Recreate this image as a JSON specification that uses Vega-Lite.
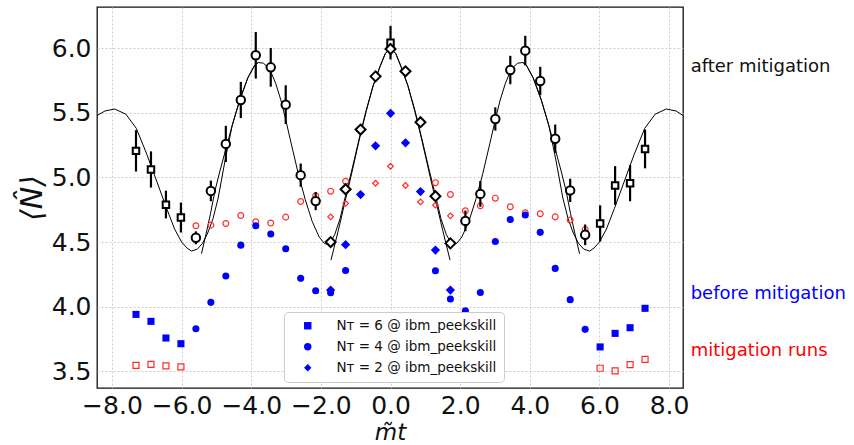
{
  "$schema": "https://vega.github.io/schema/vega-lite/v6.json",
  "autosize": {"type": "none"},
  "padding": {"left": 97, "top": 7, "right": 171, "bottom": 57},
  "width": 586,
  "height": 381,
  "background": "white",
  "config": {
    "view": {"stroke": "#111111", "strokeWidth": 1.3},
    "font": "DejaVu Sans",
    "axis": {
      "domain": false,
      "ticks": false,
      "grid": true,
      "gridColor": "#c8c8c8",
      "gridDash": [2, 2],
      "gridWidth": 0.9,
      "labelFont": "DejaVu Sans",
      "labelFontSize": 25,
      "labelColor": "#111111",
      "titleFont": "DejaVu Sans",
      "titleFontWeight": "normal",
      "titleColor": "#111111"
    }
  },
  "datasets": {
    "curves": [
      {"c": "A", "x": -8.43, "y": 5.48}, {"c": "A", "x": -8.2, "y": 5.515}, {"c": "A", "x": -7.92, "y": 5.53}, {"c": "A", "x": -7.6, "y": 5.49},
      {"c": "A", "x": -7.3, "y": 5.38}, {"c": "A", "x": -7.0, "y": 5.18}, {"c": "A", "x": -6.7, "y": 4.96}, {"c": "A", "x": -6.43, "y": 4.76},
      {"c": "A", "x": -6.2, "y": 4.6}, {"c": "A", "x": -6.0, "y": 4.5}, {"c": "A", "x": -5.85, "y": 4.455}, {"c": "A", "x": -5.72, "y": 4.43},
      {"c": "A", "x": -5.55, "y": 4.445}, {"c": "A", "x": -5.4, "y": 4.49}, {"c": "A", "x": -5.25, "y": 4.57}, {"c": "A", "x": -5.1, "y": 4.68},
      {"c": "A", "x": -4.95, "y": 4.84}, {"c": "A", "x": -4.76, "y": 5.12}, {"c": "A", "x": -4.55, "y": 5.4}, {"c": "A", "x": -4.33, "y": 5.6},
      {"c": "A", "x": -4.1, "y": 5.77}, {"c": "A", "x": -3.9, "y": 5.87}, {"c": "A", "x": -3.8, "y": 5.89}, {"c": "A", "x": -3.65, "y": 5.885},
      {"c": "A", "x": -3.47, "y": 5.84}, {"c": "A", "x": -3.3, "y": 5.73}, {"c": "A", "x": -3.15, "y": 5.6}, {"c": "A", "x": -3.03, "y": 5.47},
      {"c": "A", "x": -2.85, "y": 5.26}, {"c": "A", "x": -2.65, "y": 5.03}, {"c": "A", "x": -2.45, "y": 4.83}, {"c": "A", "x": -2.25, "y": 4.66},
      {"c": "A", "x": -2.05, "y": 4.54}, {"c": "A", "x": -1.9, "y": 4.49}, {"c": "A", "x": -1.8, "y": 4.48}, {"c": "A", "x": -1.7, "y": 4.51},
      {"c": "A", "x": -1.6, "y": 4.56}, {"c": "A", "x": -1.45, "y": 4.68}, {"c": "A", "x": -1.3, "y": 4.85}, {"c": "A", "x": -1.1, "y": 5.07},
      {"c": "A", "x": -0.9, "y": 5.3}, {"c": "A", "x": -0.7, "y": 5.52}, {"c": "A", "x": -0.5, "y": 5.71}, {"c": "A", "x": -0.3, "y": 5.86},
      {"c": "A", "x": -0.15, "y": 5.96}, {"c": "A", "x": 0.0, "y": 6.0},
      {"c": "A", "x": 0.15, "y": 5.96}, {"c": "A", "x": 0.3, "y": 5.86}, {"c": "A", "x": 0.5, "y": 5.71}, {"c": "A", "x": 0.7, "y": 5.52},
      {"c": "A", "x": 0.9, "y": 5.3}, {"c": "A", "x": 1.1, "y": 5.07}, {"c": "A", "x": 1.3, "y": 4.85}, {"c": "A", "x": 1.45, "y": 4.68},
      {"c": "A", "x": 1.6, "y": 4.56}, {"c": "A", "x": 1.7, "y": 4.51}, {"c": "A", "x": 1.8, "y": 4.48}, {"c": "A", "x": 1.9, "y": 4.49},
      {"c": "A", "x": 2.05, "y": 4.54}, {"c": "A", "x": 2.25, "y": 4.66}, {"c": "A", "x": 2.45, "y": 4.83}, {"c": "A", "x": 2.65, "y": 5.03},
      {"c": "A", "x": 2.85, "y": 5.26}, {"c": "A", "x": 3.03, "y": 5.47}, {"c": "A", "x": 3.15, "y": 5.6}, {"c": "A", "x": 3.3, "y": 5.73},
      {"c": "A", "x": 3.47, "y": 5.84}, {"c": "A", "x": 3.65, "y": 5.885}, {"c": "A", "x": 3.8, "y": 5.89}, {"c": "A", "x": 3.9, "y": 5.87},
      {"c": "A", "x": 4.1, "y": 5.77}, {"c": "A", "x": 4.33, "y": 5.6}, {"c": "A", "x": 4.55, "y": 5.4}, {"c": "A", "x": 4.76, "y": 5.12},
      {"c": "A", "x": 4.95, "y": 4.84}, {"c": "A", "x": 5.1, "y": 4.68}, {"c": "A", "x": 5.25, "y": 4.57}, {"c": "A", "x": 5.4, "y": 4.49},
      {"c": "A", "x": 5.55, "y": 4.445}, {"c": "A", "x": 5.72, "y": 4.43}, {"c": "A", "x": 5.85, "y": 4.455}, {"c": "A", "x": 6.0, "y": 4.5},
      {"c": "A", "x": 6.2, "y": 4.6}, {"c": "A", "x": 6.43, "y": 4.76}, {"c": "A", "x": 6.7, "y": 4.96}, {"c": "A", "x": 7.0, "y": 5.18},
      {"c": "A", "x": 7.3, "y": 5.38}, {"c": "A", "x": 7.6, "y": 5.49}, {"c": "A", "x": 7.92, "y": 5.53}, {"c": "A", "x": 8.2, "y": 5.515},
      {"c": "A", "x": 8.4, "y": 5.48},
      {"c": "BL", "x": -5.43, "y": 4.41}, {"c": "BL", "x": -5.3, "y": 4.56}, {"c": "BL", "x": -5.17, "y": 4.72}, {"c": "BL", "x": -5.04, "y": 4.9},
      {"c": "BL", "x": -4.9, "y": 5.05}, {"c": "BL", "x": -4.76, "y": 5.19}, {"c": "BL", "x": -4.55, "y": 5.4}, {"c": "BL", "x": -4.33, "y": 5.6},
      {"c": "BL", "x": -4.1, "y": 5.77}, {"c": "BL", "x": -3.9, "y": 5.87}, {"c": "BL", "x": -3.8, "y": 5.89},
      {"c": "BR", "x": 3.8, "y": 5.89}, {"c": "BR", "x": 3.9, "y": 5.87}, {"c": "BR", "x": 4.1, "y": 5.77}, {"c": "BR", "x": 4.33, "y": 5.6},
      {"c": "BR", "x": 4.55, "y": 5.4}, {"c": "BR", "x": 4.76, "y": 5.19}, {"c": "BR", "x": 4.9, "y": 5.05}, {"c": "BR", "x": 5.04, "y": 4.9},
      {"c": "BR", "x": 5.17, "y": 4.72}, {"c": "BR", "x": 5.3, "y": 4.56}, {"c": "BR", "x": 5.43, "y": 4.41},
      {"c": "C", "x": -1.71, "y": 4.36}, {"c": "C", "x": -1.5, "y": 4.59}, {"c": "C", "x": -1.3, "y": 4.82}, {"c": "C", "x": -1.1, "y": 5.05},
      {"c": "C", "x": -0.9, "y": 5.29}, {"c": "C", "x": -0.7, "y": 5.51}, {"c": "C", "x": -0.5, "y": 5.71}, {"c": "C", "x": -0.3, "y": 5.86},
      {"c": "C", "x": -0.15, "y": 5.96}, {"c": "C", "x": 0.0, "y": 6.0}, {"c": "C", "x": 0.15, "y": 5.96}, {"c": "C", "x": 0.3, "y": 5.86},
      {"c": "C", "x": 0.5, "y": 5.71}, {"c": "C", "x": 0.7, "y": 5.51}, {"c": "C", "x": 0.9, "y": 5.29}, {"c": "C", "x": 1.1, "y": 5.05},
      {"c": "C", "x": 1.3, "y": 4.82}, {"c": "C", "x": 1.5, "y": 4.59}, {"c": "C", "x": 1.71, "y": 4.36}
    ],
    "red": [
      {"nt": "6", "x": -7.31, "y": 3.545}, {"nt": "6", "x": -6.88, "y": 3.553}, {"nt": "6", "x": -6.45, "y": 3.541}, {"nt": "6", "x": -6.02, "y": 3.533},
      {"nt": "6", "x": 6.02, "y": 3.523}, {"nt": "6", "x": 6.45, "y": 3.502}, {"nt": "6", "x": 6.88, "y": 3.551}, {"nt": "6", "x": 7.31, "y": 3.592},
      {"nt": "4", "x": -5.59, "y": 4.626}, {"nt": "4", "x": -5.16, "y": 4.631}, {"nt": "4", "x": -4.73, "y": 4.644}, {"nt": "4", "x": -4.3, "y": 4.706},
      {"nt": "4", "x": -3.87, "y": 4.657}, {"nt": "4", "x": -3.44, "y": 4.647}, {"nt": "4", "x": -3.01, "y": 4.693}, {"nt": "4", "x": -2.58, "y": 4.814},
      {"nt": "4", "x": -2.15, "y": 4.858}, {"nt": "4", "x": -1.72, "y": 4.894}, {"nt": "4", "x": -1.29, "y": 4.971},
      {"nt": "4", "x": 1.29, "y": 4.96}, {"nt": "4", "x": 1.72, "y": 4.868}, {"nt": "4", "x": 2.15, "y": 4.742}, {"nt": "4", "x": 2.58, "y": 4.781},
      {"nt": "4", "x": 3.01, "y": 4.84}, {"nt": "4", "x": 3.44, "y": 4.773}, {"nt": "4", "x": 3.87, "y": 4.727}, {"nt": "4", "x": 4.3, "y": 4.719},
      {"nt": "4", "x": 4.73, "y": 4.695}, {"nt": "4", "x": 5.16, "y": 4.67}, {"nt": "4", "x": 5.59, "y": 4.598},
      {"nt": "2", "x": -1.72, "y": 4.695}, {"nt": "2", "x": -1.29, "y": 4.8}, {"nt": "2", "x": -0.86, "y": 4.868}, {"nt": "2", "x": -0.43, "y": 4.955},
      {"nt": "2", "x": 0.0, "y": 5.087}, {"nt": "2", "x": 0.43, "y": 4.938}, {"nt": "2", "x": 0.86, "y": 4.811}, {"nt": "2", "x": 1.29, "y": 4.786},
      {"nt": "2", "x": 1.72, "y": 4.703}
    ],
    "blue": [
      {"nt": "6", "x": -7.31, "y": 3.94}, {"nt": "6", "x": -6.88, "y": 3.886}, {"nt": "6", "x": -6.45, "y": 3.757}, {"nt": "6", "x": -6.02, "y": 3.713},
      {"nt": "6", "x": 6.02, "y": 3.688}, {"nt": "6", "x": 6.45, "y": 3.793}, {"nt": "6", "x": 6.88, "y": 3.837}, {"nt": "6", "x": 7.31, "y": 3.987},
      {"nt": "4", "x": -5.59, "y": 3.829}, {"nt": "4", "x": -5.16, "y": 4.033}, {"nt": "4", "x": -4.73, "y": 4.237}, {"nt": "4", "x": -4.3, "y": 4.476},
      {"nt": "4", "x": -3.87, "y": 4.626}, {"nt": "4", "x": -3.44, "y": 4.562}, {"nt": "4", "x": -3.01, "y": 4.448}, {"nt": "4", "x": -2.58, "y": 4.219},
      {"nt": "4", "x": -2.15, "y": 4.123}, {"nt": "4", "x": -1.72, "y": 4.107}, {"nt": "4", "x": -1.29, "y": 4.28},
      {"nt": "4", "x": 1.29, "y": 4.278}, {"nt": "4", "x": 1.72, "y": 4.059}, {"nt": "4", "x": 2.15, "y": 3.968}, {"nt": "4", "x": 2.58, "y": 4.11},
      {"nt": "4", "x": 3.01, "y": 4.505}, {"nt": "4", "x": 3.44, "y": 4.675}, {"nt": "4", "x": 3.87, "y": 4.709}, {"nt": "4", "x": 4.3, "y": 4.575},
      {"nt": "4", "x": 4.73, "y": 4.296}, {"nt": "4", "x": 5.16, "y": 4.054}, {"nt": "4", "x": 5.59, "y": 3.824},
      {"nt": "2", "x": -1.72, "y": 4.128}, {"nt": "2", "x": -1.29, "y": 4.48}, {"nt": "2", "x": -0.86, "y": 4.868}, {"nt": "2", "x": -0.43, "y": 5.245},
      {"nt": "2", "x": 0.0, "y": 5.497}, {"nt": "2", "x": 0.43, "y": 5.268}, {"nt": "2", "x": 0.86, "y": 4.891}, {"nt": "2", "x": 1.29, "y": 4.438},
      {"nt": "2", "x": 1.72, "y": 4.128}
    ],
    "black": [
      {"nt": "6", "x": -7.31, "y": 5.206, "lo": 5.046, "hi": 5.366}, {"nt": "6", "x": -6.88, "y": 5.062, "lo": 4.922, "hi": 5.202},
      {"nt": "6", "x": -6.45, "y": 4.788, "lo": 4.683, "hi": 4.898}, {"nt": "6", "x": -6.02, "y": 4.69, "lo": 4.574, "hi": 4.806},
      {"nt": "6", "x": 0.0, "y": 6.044, "lo": 5.914, "hi": 6.174},
      {"nt": "6", "x": 6.02, "y": 4.644, "lo": 4.504, "hi": 4.784}, {"nt": "6", "x": 6.45, "y": 4.938, "lo": 4.788, "hi": 5.088},
      {"nt": "6", "x": 6.88, "y": 4.956, "lo": 4.816, "hi": 5.096}, {"nt": "6", "x": 7.31, "y": 5.221, "lo": 5.071, "hi": 5.371},
      {"nt": "4", "x": -5.59, "y": 4.533, "lo": 4.483, "hi": 4.583}, {"nt": "4", "x": -5.16, "y": 4.896, "lo": 4.816, "hi": 4.976},
      {"nt": "4", "x": -4.73, "y": 5.26, "lo": 5.12, "hi": 5.4}, {"nt": "4", "x": -4.3, "y": 5.6, "lo": 5.46, "hi": 5.74},
      {"nt": "4", "x": -3.87, "y": 5.946, "lo": 5.766, "hi": 6.126}, {"nt": "4", "x": -3.44, "y": 5.853, "lo": 5.703, "hi": 6.003},
      {"nt": "4", "x": -3.01, "y": 5.564, "lo": 5.414, "hi": 5.714}, {"nt": "4", "x": -2.58, "y": 5.018, "lo": 4.928, "hi": 5.108},
      {"nt": "4", "x": -2.15, "y": 4.817, "lo": 4.747, "hi": 4.887},
      {"nt": "4", "x": 2.15, "y": 4.664, "lo": 4.584, "hi": 4.744}, {"nt": "4", "x": 2.58, "y": 4.873, "lo": 4.773, "hi": 4.973},
      {"nt": "4", "x": 3.01, "y": 5.453, "lo": 5.363, "hi": 5.543}, {"nt": "4", "x": 3.44, "y": 5.832, "lo": 5.722, "hi": 5.942},
      {"nt": "4", "x": 3.87, "y": 5.982, "lo": 5.867, "hi": 6.097}, {"nt": "4", "x": 4.3, "y": 5.747, "lo": 5.637, "hi": 5.857},
      {"nt": "4", "x": 4.73, "y": 5.3, "lo": 5.19, "hi": 5.41}, {"nt": "4", "x": 5.16, "y": 4.9, "lo": 4.81, "hi": 4.99},
      {"nt": "4", "x": 5.59, "y": 4.556, "lo": 4.476, "hi": 4.636},
      {"nt": "2", "x": -1.72, "y": 4.5, "lo": 4.5, "hi": 4.5}, {"nt": "2", "x": -1.29, "y": 4.909, "lo": 4.909, "hi": 4.909},
      {"nt": "2", "x": -0.86, "y": 5.371, "lo": 5.371, "hi": 5.371}, {"nt": "2", "x": -0.43, "y": 5.783, "lo": 5.783, "hi": 5.783},
      {"nt": "2", "x": 0.0, "y": 5.995, "lo": 5.995, "hi": 5.995}, {"nt": "2", "x": 0.43, "y": 5.822, "lo": 5.822, "hi": 5.822},
      {"nt": "2", "x": 0.86, "y": 5.428, "lo": 5.428, "hi": 5.428}, {"nt": "2", "x": 1.29, "y": 4.855, "lo": 4.855, "hi": 4.855},
      {"nt": "2", "x": 1.72, "y": 4.49, "lo": 4.49, "hi": 4.49}
    ],
    "notes": [
      {"label": "after mitigation", "x": 8.62, "y": 5.858},
      {"label": "before mitigation", "x": 8.62, "y": 4.097},
      {"label": "mitigation runs", "x": 8.62, "y": 3.657}
    ]
  },
  "encoding": {
    "x": {
      "field": "x", "type": "quantitative",
      "scale": {"domain": [-8.43, 8.4], "nice": false, "zero": false},
      "axis": {"values": [-8, -6, -4, -2, 0, 2, 4, 6, 8], "format": ".1f", "labelPadding": 5, "title": "m\u0303t", "titleFontSize": 23, "titleFontStyle": "italic", "titleBaseline": "alphabetic", "titleY": 51}
    },
    "y": {
      "field": "y", "type": "quantitative",
      "scale": {"domain": [3.37, 6.32], "nice": false, "zero": false},
      "axis": {"values": [3.5, 4.0, 4.5, 5.0, 5.5, 6.0], "format": ".1f", "labelPadding": 6, "title": "\u27e8N\u0302\u27e9", "titleFontSize": 30, "titleFontStyle": "italic", "titlePadding": 4}
    }
  },
  "layer": [
    {
      "data": {"name": "curves"},
      "mark": {"type": "line", "color": "black", "strokeWidth": 1},
      "encoding": {"detail": {"field": "c"}}
    },
    {
      "data": {"name": "red"},
      "mark": {"type": "point", "filled": false, "color": "#ff2a2a", "strokeWidth": 1.2, "opacity": 1},
      "encoding": {
        "shape": {"field": "nt", "type": "nominal", "scale": {"domain": ["6", "4", "2"], "range": ["square", "circle", "diamond"]}, "legend": null},
        "size": {"field": "nt", "type": "nominal", "scale": {"domain": ["6", "4", "2"], "range": [36, 32, 52]}, "legend": null}
      }
    },
    {
      "data": {"name": "blue"},
      "mark": {"type": "point", "filled": true, "color": "#0000ff", "opacity": 1, "size": 50},
      "encoding": {
        "shape": {
          "field": "nt", "type": "nominal",
          "scale": {"domain": ["6", "4", "2"], "range": ["square", "circle", "diamond"]},
          "legend": {
            "orient": "none", "legendX": 187, "legendY": 305, "title": null,
            "labelExpr": "'N\u1d1b = ' + datum.label + ' @ ibm_peekskill'",
            "fillColor": "white", "strokeColor": "#cccccc", "cornerRadius": 4, "padding": 7,
            "labelFontSize": 13.5, "labelFont": "DejaVu Sans", "labelColor": "#111111",
            "symbolSize": 55, "symbolFillColor": "#0000ff", "symbolStrokeColor": "#0000ff", "symbolStrokeWidth": 0,
            "symbolOffset": 10, "labelOffset": 22, "rowPadding": 6
          }
        }
      }
    },
    {
      "data": {"name": "blue"},
      "transform": [{"filter": "datum.nt == '2'"}],
      "mark": {"type": "point", "filled": true, "color": "#0000ff", "opacity": 1, "size": 85, "shape": "diamond"},
      "encoding": {}
    },
    {
      "data": {"name": "black"},
      "mark": {"type": "rule", "color": "black", "strokeWidth": 2.2},
      "encoding": {"y": {"field": "lo", "type": "quantitative"}, "y2": {"field": "hi"}}
    },
    {
      "data": {"name": "black"},
      "mark": {"type": "point", "filled": false, "fill": "white", "fillOpacity": 1, "stroke": "black", "strokeWidth": 2, "opacity": 1},
      "encoding": {
        "shape": {"field": "nt", "type": "nominal", "scale": {"domain": ["6", "4", "2"], "range": ["square", "circle", "diamond"]}, "legend": null},
        "size": {"field": "nt", "type": "nominal", "scale": {"domain": ["6", "4", "2"], "range": [42, 100, 135]}, "legend": null}
      }
    },
    {
      "data": {"name": "notes"},
      "mark": {"type": "text", "align": "left", "baseline": "middle", "fontSize": 18, "font": "DejaVu Sans"},
      "encoding": {
        "text": {"field": "label"},
        "color": {"field": "label", "type": "nominal", "scale": {"domain": ["after mitigation", "before mitigation", "mitigation runs"], "range": ["#111111", "#0000ff", "#ff0000"]}, "legend": null}
      }
    }
  ],
  "resolve": {"scale": {"shape": "independent", "size": "independent", "color": "independent"}, "legend": {"shape": "independent"}}
}
